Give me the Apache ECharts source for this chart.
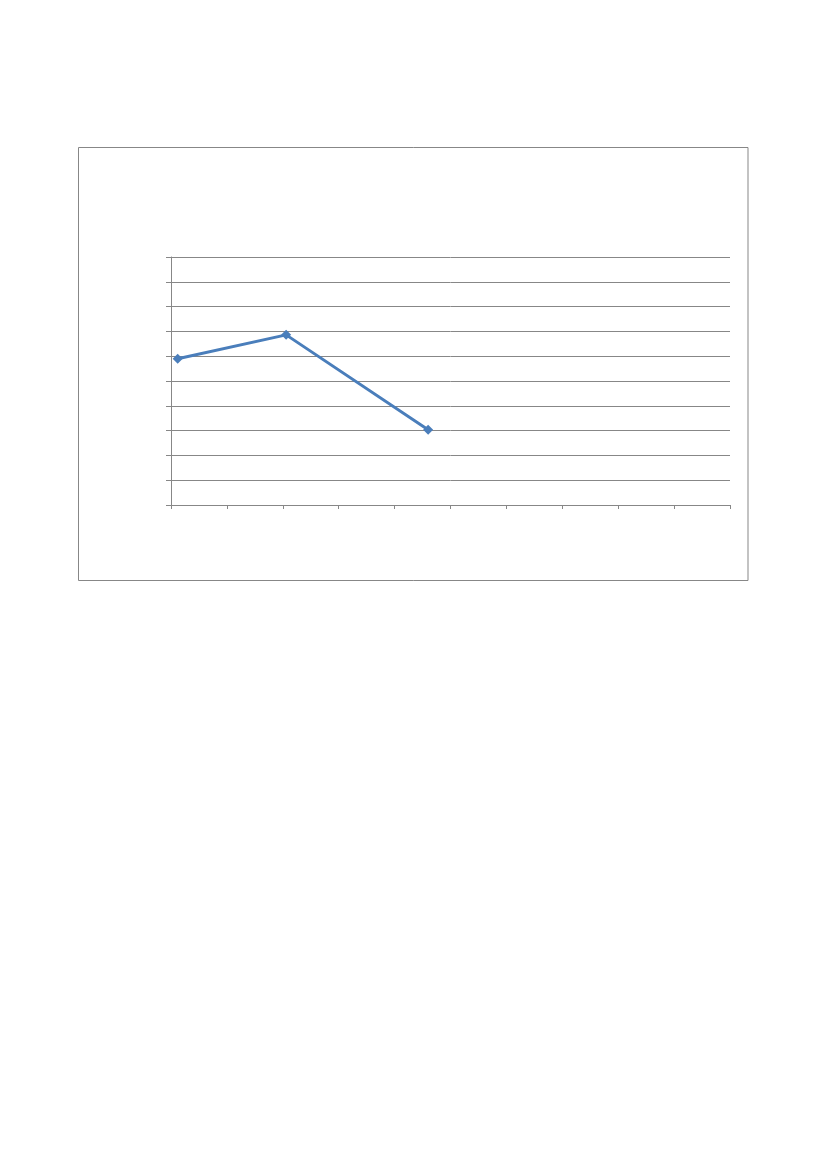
<!DOCTYPE html>
<html>
<head>
<meta charset="utf-8">
<script src="https://cdn.jsdelivr.net/npm/echarts@6/dist/echarts.min.js"></script>
<style>
html,body{margin:0;padding:0;background:#fff;}
#c{width:827px;height:1169px;}
</style>
</head>
<body>
<div id="c"></div>
<script>
const xValues = [0.12, 2.06, 4.6];
const yValues = [5.9, 6.86, 3.03];
const xMin = 0, xMax = 10, xStep = 1;
const yMin = 0, yMax = 10, yStep = 1;

const points = xValues.map((x, i) => [x, yValues[i]]);
const chart = echarts.init(document.getElementById('c'), null, {renderer: 'canvas'});
const grey = '#878787';
chart.setOption({
  backgroundColor: '#ffffff',
  animation: false,
  graphic: [{
    type: 'rect',
    shape: {x: 78.5, y: 147.5, width: 669.5, height: 433},
    style: {fill: 'none', stroke: grey, lineWidth: 1},
    z: -1
  }],
  grid: {left: 171, top: 257, right: 97, bottom: 664, containLabel: false},
  xAxis: {
    type: 'value', min: xMin, max: xMax, interval: xStep,
    axisLine: {show: true, lineStyle: {color: grey, width: 1}},
    axisTick: {show: true, length: 4, lineStyle: {color: grey}},
    axisLabel: {show: false},
    splitLine: {show: false}
  },
  yAxis: {
    type: 'value', min: yMin, max: yMax, interval: yStep,
    axisLine: {show: true, lineStyle: {color: grey, width: 1}},
    axisTick: {show: true, length: 5, lineStyle: {color: grey}},
    axisLabel: {show: false},
    splitLine: {show: true, lineStyle: {color: grey, width: 1}}
  },
  series: [{
    type: 'line',
    data: points,
    symbol: 'diamond',
    symbolSize: 10,
    lineStyle: {color: '#4a7ebb', width: 3},
    itemStyle: {color: '#4a7ebb'}
  }]
});
</script>
</body>
</html>
